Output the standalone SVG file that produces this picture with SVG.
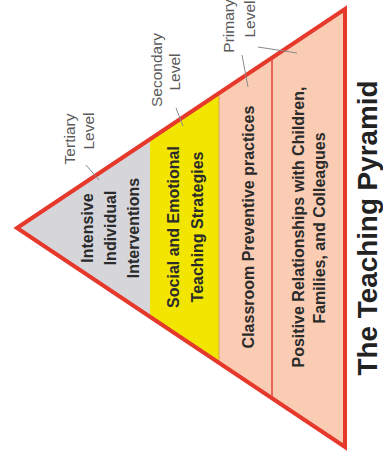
<svg xmlns="http://www.w3.org/2000/svg" width="383" height="464" viewBox="0 0 383 464">
<style>
.body{font-family:"Liberation Sans",Arial,sans-serif;font-weight:bold;font-size:16px;fill:#2b2b2b;text-anchor:middle}
.lbl{font-family:"Liberation Sans",Arial,sans-serif;font-size:15.5px;fill:#5a5a5a;text-anchor:middle}
.title{font-family:"Liberation Sans",Arial,sans-serif;font-weight:bold;font-size:27px;fill:#222;text-anchor:middle}
.lead{stroke:#8a8a8a;stroke-width:1;fill:none}
</style>
<rect width="383" height="464" fill="#fff"/>
<g id="tier-tertiary">
<polygon points="17,228 150,139.2 150,316.8" fill="#d6d6da"/>
<text class="body" transform="translate(92.6,228) rotate(-90)">Intensive</text>
<text class="body" transform="translate(115.6,228) rotate(-90)">Individual</text>
<text class="body" transform="translate(138.6,228) rotate(-90)">Interventions</text>
</g>
<g id="tier-secondary">
<polygon points="150,139.2 219,93.1 219,362.9 150,316.8" fill="#f2e600"/>
<text class="body" transform="translate(178.6,227) rotate(-90)">Social and Emotional</text>
<text class="body" transform="translate(202.6,227) rotate(-90)">Teaching Strategies</text>
</g>
<g id="tier-primary-classroom">
<polygon points="219,93.1 272,57.7 272,398.3 219,362.9" fill="#f9ccb3"/>
<line x1="219" y1="93.1" x2="219" y2="362.9" stroke="#d9a060" stroke-width="1"/>
<text class="body" transform="translate(253.6,227) rotate(-90)">Classroom Preventive practices</text>
</g>
<g id="tier-primary-relationships">
<polygon points="272,57.7 345,9 345,447 272,398.3" fill="#f9ccb3"/>
<line x1="272" y1="57.7" x2="272" y2="398.3" stroke="#e2453d" stroke-width="1.5"/>
<text class="body" transform="translate(303.6,227) rotate(-90)">Positive Relationships with Children,</text>
<text class="body" transform="translate(324.6,228) rotate(-90)">Families, and Colleagues</text>
</g>
<g id="outline">
<polygon points="17,228 345,9 345,447" fill="none" stroke="#e6382b" stroke-width="4" stroke-linejoin="miter"/>
</g>
<g id="label-tertiary">
<text class="lbl" transform="translate(75.4,139) rotate(-90)">Tertiary</text>
<text class="lbl" transform="translate(94.4,131) rotate(-90)">Level</text>
</g>
<g id="label-secondary">
<text class="lbl" transform="translate(162.4,70) rotate(-90)">Secondary</text>
<text class="lbl" transform="translate(180.4,72) rotate(-90)">Level</text>
</g>
<g id="label-primary">
<text class="lbl" transform="translate(234.4,26) rotate(-90)">Primary</text>
<text class="lbl" transform="translate(255.4,19) rotate(-90)">Level</text>
</g>
<g id="connectors">
<line class="lead" x1="86" y1="165" x2="99" y2="180"/>
<line class="lead" x1="176" y1="108" x2="183" y2="126"/>
<line class="lead" x1="242" y1="55" x2="248" y2="87"/>
<line class="lead" x1="258" y1="47" x2="297" y2="53"/>
</g>
<g id="title">
<text class="title" transform="translate(376.5,228) rotate(-90)" textLength="295" lengthAdjust="spacingAndGlyphs">The Teaching Pyramid</text>
</g>
</svg>
